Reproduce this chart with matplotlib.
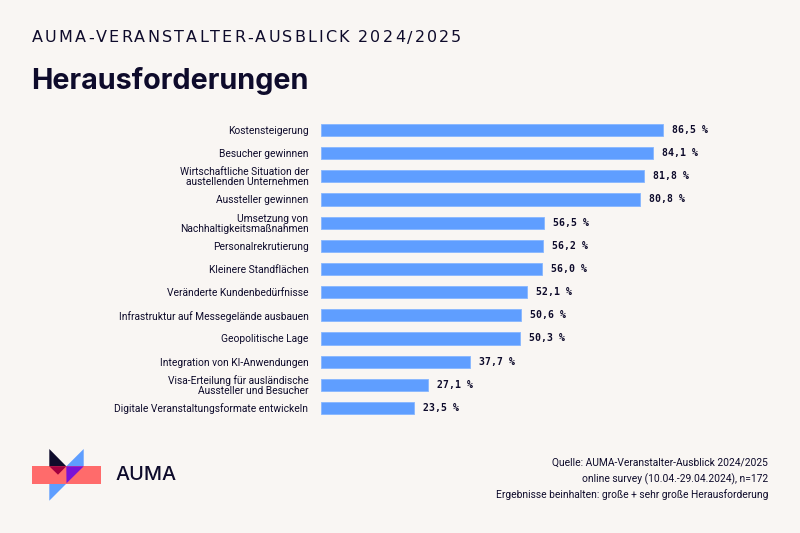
import numpy as np
import matplotlib
matplotlib.use("Agg")
import matplotlib.pyplot as plt
from matplotlib.patches import Polygon, Rectangle

# === Daten ===
kategorien = [
    "Kostensteigerung",
    "Besucher gewinnen",
    "Wirtschaftliche Situation der\naustellenden Unternehmen",
    "Aussteller gewinnen",
    "Umsetzung von\nNachhaltigkeitsmaßnahmen",
    "Personalrekrutierung",
    "Kleinere Standflächen",
    "Veränderte Kundenbedürfnisse",
    "Infrastruktur auf Messegelände ausbauen",
    "Geopolitische Lage",
    "Integration von KI-Anwendungen",
    "Visa-Erteilung für ausländische\nAussteller und Besucher",
    "Digitale Veranstaltungsformate entwickeln",
]
werte = [86.5, 84.1, 81.8, 80.8, 56.5, 56.2, 56.0, 52.1, 50.6, 50.3, 37.7, 27.1, 23.5]

titel_oben = "AUMA-VERANSTALTER-AUSBLICK 2024/2025"
titel = "Herausforderungen"
quelle = [
    "Quelle: AUMA-Veranstalter-Ausblick 2024/2025",
    "online survey (10.04.-29.04.2024), n=172",
    "Ergebnisse beinhalten: große + sehr große Herausforderung",
]

# === Farben ===
bg = "#f9f6f3"
navy = "#0e0b2b"
blau = "#5f9eff"
rot = "#ff6b6b"

W, H = 800, 533
fig = plt.figure(figsize=(W / 100, H / 100), dpi=100, facecolor=bg)

def px(x, y):
    # Pixel (von oben links) -> Figurkoordinaten
    return x / W, 1 - y / H

# Achse fuer die Balken: 0 % bei x=321 px, 3.95 px pro %
x0, skala = 321, 3.95
y_top, y_bot = 130, 408
schritt = (y_bot - y_top) / (len(werte) - 1)
ax = fig.add_axes([x0 / W, 1 - (y_bot + schritt / 2) / H,
                   100 * skala / W, (y_bot - y_top + schritt) / H])
ax.set_facecolor(bg)
ax.set_xlim(0, 100)
ax.set_ylim(len(werte) - 0.5, -0.5)
pos = np.arange(len(werte))
ax.barh(pos, werte, height=0.52, color=blau, edgecolor="#86b6ff", linewidth=0.6)
for p, v in zip(pos, werte):
    ax.text(v + 9 / skala, p, f"{v:.1f} %".replace(".", ","), va="center", ha="left",
            family="DejaVu Sans Mono", fontweight="bold", fontsize=7.1, color=navy)
ax.set_yticks(pos)
ax.set_yticklabels(kategorien, family="Roboto", fontsize=7.4, color=navy, linespacing=1.0)
ax.tick_params(axis="y", length=0, pad=9)
ax.set_xticks([])
for s in ax.spines.values():
    s.set_visible(False)

# === Titel mit Sperrung ===
fig.canvas.draw()
renderer = fig.canvas.get_renderer()
xpos = 32
for ch in titel_oben:
    t = fig.text(*px(xpos, 38), ch, fontsize=11.5, family="DejaVu Sans", color=navy,
                 va="center", ha="left")
    bb = t.get_window_extent(renderer)
    w = bb.width if ch != " " else 5
    xpos += w + 2.1

fig.text(*px(31, 81), titel, fontsize=20.7, family="Inter", fontweight="bold",
         color=navy, va="center", ha="left")

# === Quelle ===
for i, zeile in enumerate(quelle):
    fig.text(*px(768, 463 + 16 * i), zeile, fontsize=7.35, family="Roboto", color=navy,
             va="center", ha="right")

# === Logo ===
lax = fig.add_axes([0, 0, 1, 1], facecolor="none")
lax.set_xlim(0, W)
lax.set_ylim(H, 0)
lax.axis("off")
lax.add_patch(Polygon([(49.3, 500.7), (49.3, 483.3), (83.7, 449), (83.7, 466.3)], color=blau, lw=0))
lax.add_patch(Rectangle((32, 466.3), 69, 17.4, color=rot, lw=0))
lax.add_patch(Polygon([(66.3, 466.3), (83.7, 466.3), (66.5, 483.3)], color="#7b12d6", lw=0))
lax.add_patch(Polygon([(49.3, 449), (66.3, 466.3), (49.3, 466.3)], color=navy, lw=0))
lax.add_patch(Polygon([(49.3, 466.3), (66.3, 466.3), (58, 474.7)], color="#a3003f", lw=0))
lax.text(116, 475, "AUMA", fontsize=14.3, family="Inter", fontweight="medium",
         color=navy, va="center", ha="left")

fig.savefig("out.png", dpi=100, facecolor=bg)
